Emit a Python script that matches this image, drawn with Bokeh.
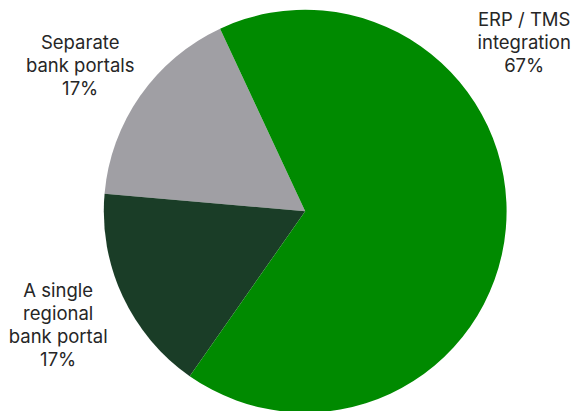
import math
from bokeh.plotting import figure
from bokeh.models import ColumnDataSource, Range1d
from bokeh.core.properties import value
from bokeh.embed import file_html
from bokeh.resources import INLINE

# Data (counter-clockwise order starting at the top-left boundary)
categories = ["Separate\nbank portals", "A single\nregional\nbank portal", "ERP / TMS\nintegration"]
shares = [16.67, 16.67, 66.67]
pct_labels = ["17%", "17%", "67%"]
colors = ["#A09FA4", "#1A3D27", "#008A00"]

W, H = 572, 411
cx, cy, r = 304.7, H - 210.7, 201.4
start_deg = 115.0

total = sum(shares)
starts, ends = [], []
a = math.radians(start_deg)
for s in shares:
    starts.append(a)
    a += s / total * 2 * math.pi
    ends.append(a)

src = ColumnDataSource(dict(start=starts, end=ends, color=colors))

p = figure(width=W, height=H, output_backend="svg", toolbar_location=None,
           x_range=Range1d(0, W), y_range=Range1d(0, H),
           min_border=0, outline_line_color=None)
p.axis.visible = False
p.grid.visible = False
p.background_fill_color = "white"

p.wedge(x=cx, y=cy, radius=r, start_angle="start", end_angle="end",
        fill_color="color", line_color=None, source=src)

# label layout offsets (pixels relative to pie centre)
label_dx = [-225.0, -247.0, 219.0]
label_dy = [146.5, -113.5, 169.0]
texts = [c + "\n" + pl for c, pl in zip(categories, pct_labels)]
lsrc = ColumnDataSource(dict(x=[cx + d for d in label_dx], y=[cy + d for d in label_dy], t=texts))
p.text(x="x", y="y", text="t", source=lsrc, text_align="center", text_baseline="middle",
       text_font=value("Inter"), text_font_size="18.5px", text_color="#262626",
       text_line_height=1.05)

open("out.html", "w").write(file_html(p, INLINE))
